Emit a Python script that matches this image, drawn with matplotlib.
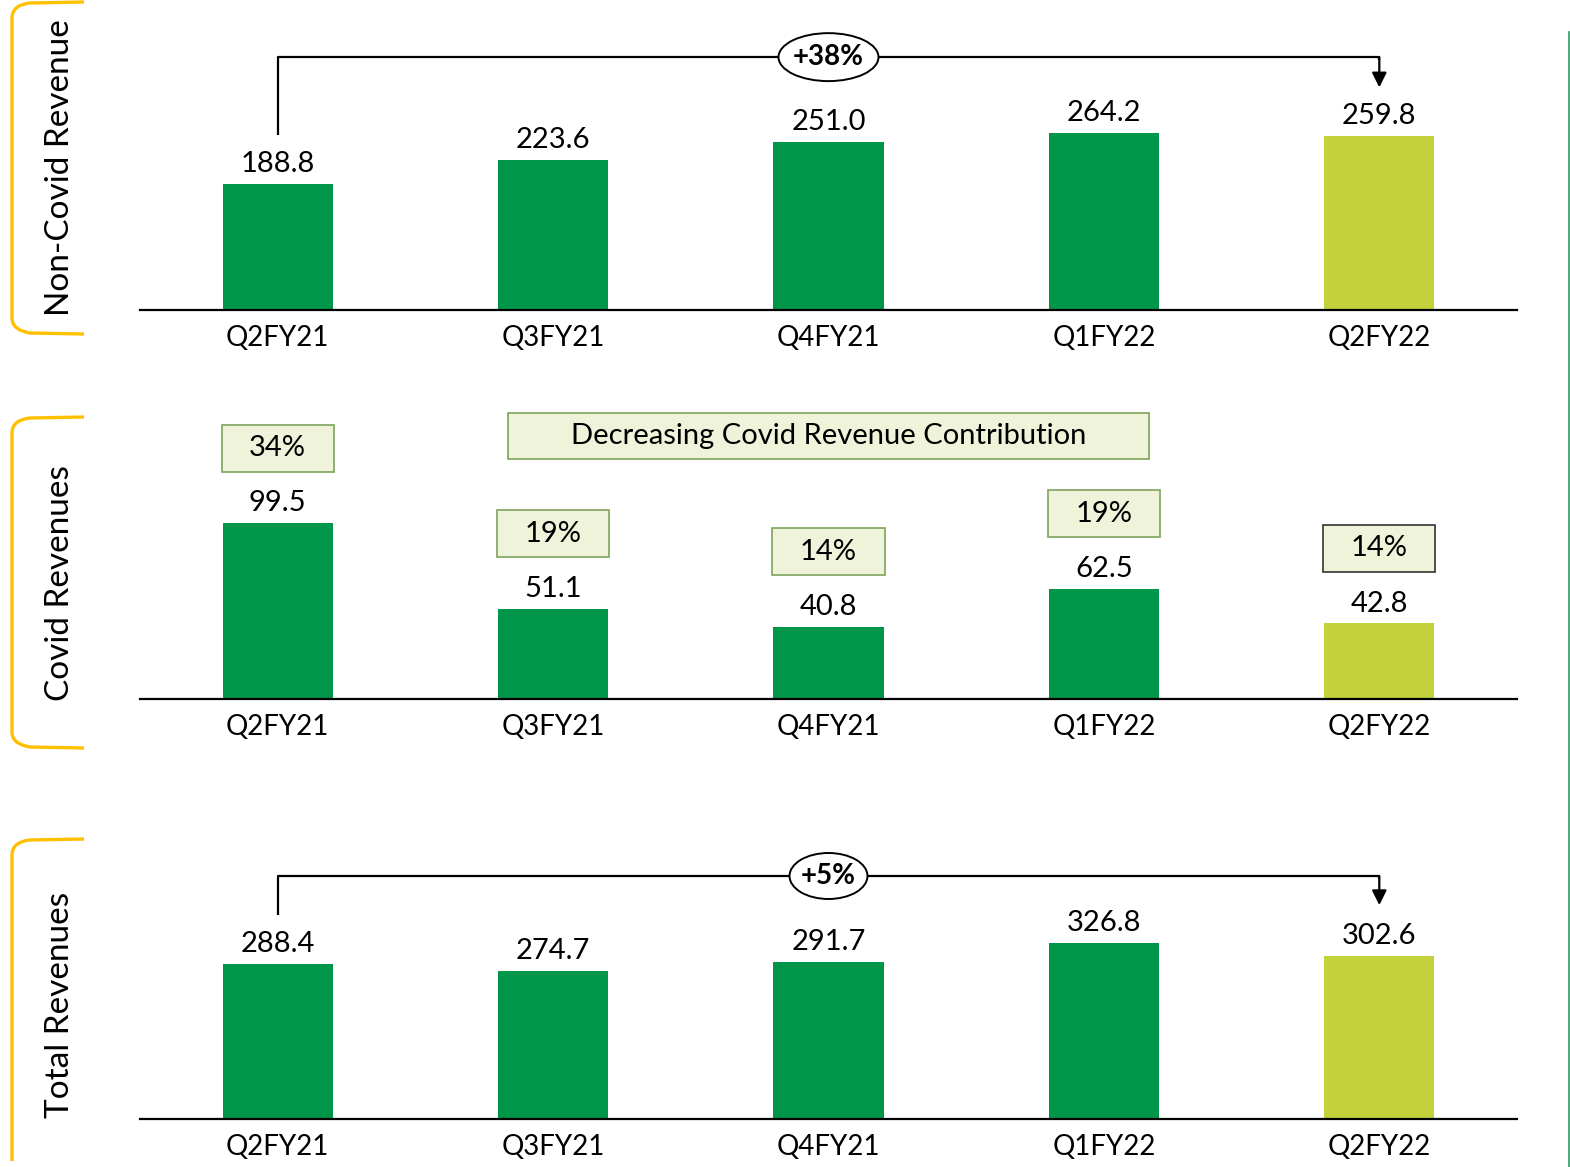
import matplotlib
matplotlib.use("Agg")
import matplotlib.pyplot as plt
from matplotlib.patches import Ellipse, Rectangle, PathPatch
from matplotlib.path import Path
from matplotlib.lines import Line2D

plt.rcParams['font.family'] = ['Lato', 'DejaVu Sans']

# ---- data ----
quarters = ["Q2FY21", "Q3FY21", "Q4FY21", "Q1FY22", "Q2FY22"]
non_covid = [188.8, 223.6, 251.0, 264.2, 259.8]
covid = [99.5, 51.1, 40.8, 62.5, 42.8]
total = [288.4, 274.7, 291.7, 326.8, 302.6]
covid_share = ["34%", "19%", "14%", "19%", "14%"]
growth_non_covid = "+38%"
growth_total = "+5%"
panel_titles = ["Non-Covid Revenue", "Covid Revenues", "Total Revenues"]
banner = "Decreasing Covid Revenue Contribution"

GREEN = "#00964A"
LIME = "#C3D13B"
YELLOW = "#FFC000"
BOX_FILL = "#EFF3DA"
BOX_EDGE = "#7EA35A"
colors = [GREEN, GREEN, GREEN, GREEN, LIME]

W, H = 1570, 1167
fig = plt.figure(figsize=(W / 100, H / 100), dpi=100)


def make_axes(top_px, bottom_px, ymax):
    ax = fig.add_axes([140 / W, 1 - bottom_px / H, (1517 - 140) / W, (bottom_px - top_px) / H])
    ax.set_xlim(-0.5, 4.5)
    ax.set_ylim(0, ymax)
    for s in ("top", "left", "right"):
        ax.spines[s].set_visible(False)
    ax.spines["bottom"].set_linewidth(1.6)
    ax.set_yticks([])
    ax.set_xticks(range(len(quarters)))
    ax.set_xticklabels(quarters, fontsize=20)
    ax.tick_params(axis="x", length=0, pad=11)
    ax.patch.set_alpha(0)
    return ax


def bars_with_labels(ax, values, label_gap):
    bars = ax.bar(range(len(values)), values, width=0.4, color=colors, zorder=2)
    for b, v in zip(bars, values):
        ax.annotate(f"{v:.1f}", (b.get_x() + b.get_width() / 2, v),
                    xytext=(0, label_gap), textcoords="offset points",
                    ha="center", va="bottom", fontsize=21, clip_on=False)
    return bars


def growth_bracket(ax, values, start_off, tip_off, top, text, ell_w, ell_h):
    ax.plot([0, 0, 4, 4], [values[0] + start_off, top, top, top - 5],
            color="black", lw=1.6, clip_on=False, solid_capstyle="butt", zorder=3)
    ax.annotate("", xy=(4, values[-1] + tip_off), xytext=(4, top),
                arrowprops=dict(arrowstyle="-|>", color="black", lw=1.6,
                                mutation_scale=22, shrinkA=0, shrinkB=0),
                annotation_clip=False)
    ax.add_patch(Ellipse((2, top), ell_w, ell_h, facecolor="white", edgecolor="black",
                         lw=1.4, zorder=4, clip_on=False))
    ax.text(2, top, text, ha="center", va="center", fontsize=20, fontweight="bold",
            zorder=5, clip_on=False)


# ---- Non-Covid revenue ----
ax1 = make_axes(20, 310, 433.5)
bars_with_labels(ax1, non_covid, 5)
growth_bracket(ax1, non_covid, 73, 73, 378, growth_non_covid, 0.363, 71.7)

# ---- Covid revenue ----
ax2 = make_axes(400, 699, 169.4)
bars_with_labels(ax2, covid, 5)
for i, (v, s) in enumerate(zip(covid, covid_share)):
    edge = "#333333" if i == len(covid) - 1 else BOX_EDGE
    yc = v + 42.5
    ax2.add_patch(Rectangle((i - 0.2035, yc - 13.3), 0.407, 26.6, facecolor=BOX_FILL,
                            edgecolor=edge, lw=1.2, clip_on=False, zorder=3))
    ax2.text(i, yc, s, ha="center", va="center", fontsize=21, zorder=4, clip_on=False)
ax2.add_patch(Rectangle((2 - 1.162, 149 - 13.3), 2.324, 26.6, facecolor=BOX_FILL,
                        edgecolor=BOX_EDGE, lw=1.2, clip_on=False, zorder=3))
ax2.text(2, 149, banner, ha="center", va="center", fontsize=21, zorder=4, clip_on=False)

# ---- Total revenue ----
ax3 = make_axes(830, 1119, 537.2)
bars_with_labels(ax3, total, 5)
growth_bracket(ax3, total, 91, 95, 451.7, growth_total, 0.283, 85.5)


# ---- side titles and yellow brackets ----
def px(x, y):
    return (x / W, 1 - y / H)


def side_bracket(top, bottom, curve_bottom=True):
    verts = [px(84, top - 2), px(30, top - 1), px(12, top + 1), px(12, top + 14),
             px(12, bottom - 14)]
    codes = [Path.MOVETO, Path.LINETO, Path.CURVE3, Path.CURVE3, Path.LINETO]
    if curve_bottom:
        verts += [px(12, bottom - 2), px(30, bottom + 1), px(84, bottom + 2)]
        codes += [Path.CURVE3, Path.CURVE3, Path.LINETO]
    fig.patches.append(PathPatch(Path(verts, codes), facecolor="none", edgecolor=YELLOW,
                                 lw=2.4, transform=fig.transFigure))


side_bracket(4, 332)
side_bracket(419, 746)
side_bracket(841, 1175, curve_bottom=False)

for title, yc in zip(panel_titles, [168, 583, 1005]):
    fig.text(*px(60, yc), title, rotation=90, ha="center", va="center", fontsize=24)

fig.lines.append(Line2D([1568.5 / W, 1568.5 / W], [1 - 32 / H, 0], color="#2E9B62",
                        lw=1.2, transform=fig.transFigure))

fig.savefig("out.png", dpi=100, facecolor="white")
